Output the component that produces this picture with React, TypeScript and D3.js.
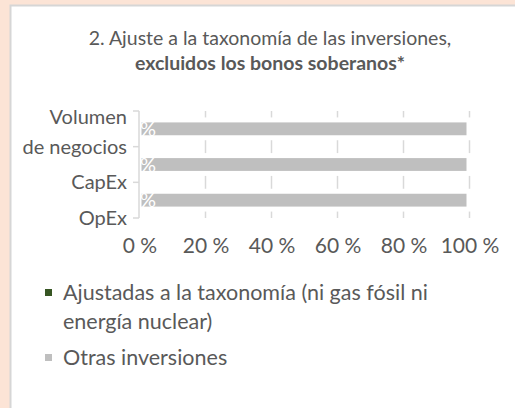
import { useEffect, useRef } from "react"
import * as d3 from "d3"

// chart values
const categories = ["Volumen de negocios", "CapEx", "OpEx"]
const categoryLines: Record<string, string[]> = {
  "Volumen de negocios": ["Volumen", "de negocios"],
  CapEx: ["CapEx"],
  OpEx: ["OpEx"],
}
const alineadas = [0, 0, 0]
const otras = [100, 100, 100]
const xTicks = [0, 20, 40, 60, 80, 100]
const titleLines = ["2. Ajuste a la taxonomía de las inversiones,", "excluidos los bonos soberanos*"]
const legendItems = [
  { lines: ["Ajustadas a la taxonomía (ni gas fósil ni", "energía nuclear)"], color: "#375623" },
  { lines: ["Otras inversiones"], color: "#bfbfbf" },
]

const W = 515
const H = 408
const FONT = "Lato, 'Open Sans', sans-serif"
const TEXT = "#595959"

export default function App() {
  const svgRef = useRef<SVGSVGElement>(null)

  useEffect(() => {
    if (!svgRef.current) return
    const svg = d3.select(svgRef.current)
    svg.selectAll("*").remove()

    // page background + panel
    svg.append("rect").attr("width", W).attr("height", H).attr("fill", "#fce4d6")
    svg
      .append("rect")
      .attr("x", 10.5)
      .attr("y", 5.5)
      .attr("width", W + 20)
      .attr("height", H + 20)
      .attr("fill", "#ffffff")
      .attr("stroke", "#d6d6d6")
      .attr("stroke-width", 2)

    // title
    const title = svg.append("text").attr("text-anchor", "middle").attr("fill", TEXT).attr("font-family", FONT).attr("font-size", 19.5)
    titleLines.forEach((t, i) => {
      title
        .append("tspan")
        .attr("x", 270)
        .attr("y", 45 + i * 25)
        .attr("font-weight", i === 1 ? "bold" : "normal")
        .text(t)
    })

    const x = d3.scaleLinear().domain([0, 100]).range([139, 469])
    const y = d3.scaleBand().domain(categories).range([111, 218]).paddingInner(0).paddingOuter(0)
    const bw = y.bandwidth()
    const barH = bw * 0.5

    // gridlines
    svg
      .append("g")
      .selectAll("line")
      .data(xTicks.filter((t) => t > 0))
      .enter()
      .append("line")
      .attr("x1", (d) => x(d) + 0.5)
      .attr("x2", (d) => x(d) + 0.5)
      .attr("y1", 111)
      .attr("y2", 218)
      .attr("stroke", "#d9d9d9")
      .attr("stroke-width", 1.5)

    // stacked bars
    const rows = categories.map((c, i) => ({ c, a: alineadas[i], o: otras[i] }))
    const bars = svg.append("g")
    bars
      .selectAll("rect.o")
      .data(rows)
      .enter()
      .append("rect")
      .attr("x", (d) => x(d.a))
      .attr("y", (d) => (y(d.c) as number) + (bw - barH) / 2)
      .attr("width", (d) => x(d.a + d.o) - x(d.a))
      .attr("height", barH)
      .attr("fill", "#bfbfbf")
      .attr("stroke", "#ffffff")
      .attr("stroke-width", 5)
    bars
      .selectAll("rect.a")
      .data(rows)
      .enter()
      .append("rect")
      .attr("x", x(0))
      .attr("y", (d) => (y(d.c) as number) + (bw - barH) / 2)
      .attr("width", (d) => x(d.a) - x(0))
      .attr("height", barH)
      .attr("fill", "#375623")

    // data labels of the zero-width series: only the "%" shows, in white
    svg
      .append("g")
      .selectAll("text")
      .data(rows)
      .enter()
      .append("text")
      .attr("x", (d) => x(d.a) + 1)
      .attr("y", (d) => (y(d.c) as number) + bw / 2 + 7)
      .attr("fill", "#ffffff")
      .attr("font-family", FONT)
      .attr("font-size", 20)
      .text("%")

    // category axis
    const axis = svg.append("g").attr("stroke", "#d9d9d9").attr("stroke-width", 1.5)
    axis.append("line").attr("x1", x(0)).attr("x2", x(0)).attr("y1", 111).attr("y2", 218)
    const tickYs = [111, ...categories.map((c) => (y(c) as number) + bw)]
    axis
      .selectAll("line.t")
      .data(tickYs)
      .enter()
      .append("line")
      .attr("x1", x(0) - 6)
      .attr("x2", x(0))
      .attr("y1", (d) => d)
      .attr("y2", (d) => d)

    categories.forEach((c) => {
      const lines = categoryLines[c]
      const base = (y(c) as number) + bw
      lines.forEach((l, i) => {
        svg
          .append("text")
          .attr("x", 127)
          .attr("y", base - (lines.length - 1 - i) * 30)
          .attr("dy", "0.35em")
          .attr("text-anchor", "end")
          .attr("fill", TEXT)
          .attr("font-family", FONT)
          .attr("font-size", 20)
          .text(l)
      })
    })

    // value axis labels
    svg
      .append("g")
      .selectAll("text")
      .data(xTicks)
      .enter()
      .append("text")
      .attr("x", (d) => x(d) + 1)
      .attr("y", 253)
      .attr("text-anchor", "middle")
      .attr("fill", TEXT)
      .attr("font-family", FONT)
      .attr("font-size", 21)
      .text((d) => `${d} %`)

    // legend
    let ly = 300
    legendItems.forEach((item) => {
      svg
        .append("rect")
        .attr("x", 45)
        .attr("y", ly - 11)
        .attr("width", 7)
        .attr("height", 7)
        .attr("fill", item.color)
      item.lines.forEach((l, i) => {
        svg
          .append("text")
          .attr("x", 63)
          .attr("y", ly + i * 29)
          .attr("fill", TEXT)
          .attr("font-family", FONT)
          .attr("font-size", 21.5)
          .text(l)
      })
      ly += item.lines.length * 29 + 7
    })
  }, [])

  return <svg ref={svgRef} width={W} height={H} style={{ position: "absolute", left: 0, top: 0 }} />
}
